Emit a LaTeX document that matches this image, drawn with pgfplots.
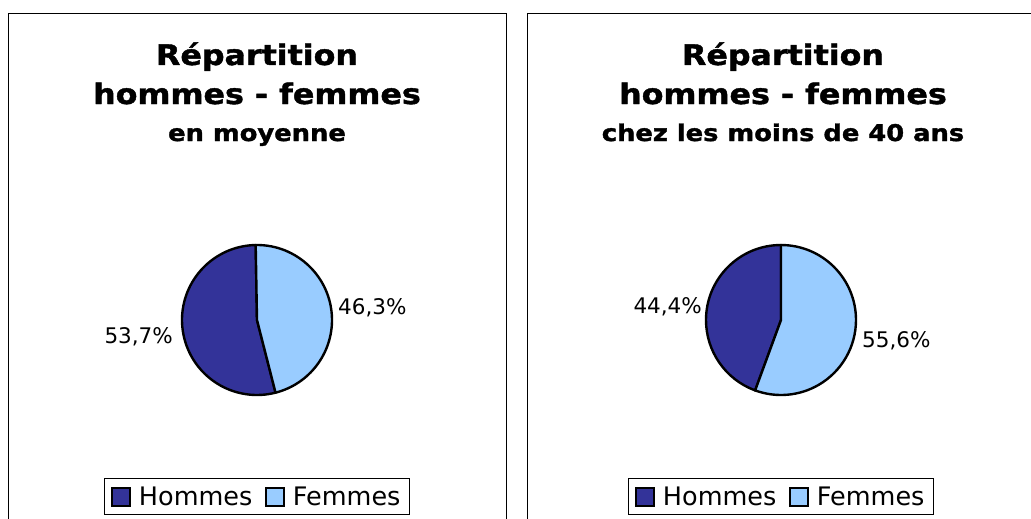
\documentclass[border=0pt]{standalone}
\usepackage{pgfplots}
\usepackage{pgfplotstable}
\pgfplotsset{compat=1.18}
\usepackage{fontspec}
\setmainfont{DejaVu Sans}
\newfontfamily\titlefont{DejaVu Sans Bold}[FakeStretch=1.12,FakeBold=1.5]
\definecolor{hommes}{HTML}{333399}
\definecolor{femmes}{HTML}{99CCFF}

\pgfplotstableread{
groupe valeur
Hommes 53.7
Femmes 46.3
}\moyenne
\pgfplotstableread{
groupe valeur
Hommes 44.4
Femmes 55.6
}\moinsquarante

\pgfplotsset{
  pieaxis/.style={
    anchor=center, scale only axis, width=150pt, height=150pt,
    xmin=-1, xmax=1, ymin=-1, ymax=1, hide axis, clip=false,
    legend columns=2,
    legend style={at={(0.5,-0.677)}, anchor=center, draw=black, line width=0.9pt,
      font=\fontsize{25.5}{30}\selectfont, inner xsep=6.7pt, inner ysep=5.8pt,
      nodes={inner sep=2pt},
      /tikz/every odd column/.append style={column sep=6pt},
      /tikz/every even column/.append style={column sep=11pt}},
    legend image code/.code={\draw[##1,line width=2pt] (0pt,-9pt) rectangle (17.5pt,8.5pt);},
  },
}
\tikzset{labelnode/.style={inner sep=0pt, font=\fontsize{21.5}{25}\selectfont}}

\begin{document}
\begin{tikzpicture}
\useasboundingbox (0,0) rectangle (1031pt,-519pt);
\clip (0,0) rectangle (1031pt,-519pt);
\draw[line width=1pt] (8pt,-540pt) -- (8pt,-14pt) -- (506pt,-14pt) -- (506pt,-540pt);
\draw[line width=1pt] (527.5pt,-540pt) -- (527.5pt,-14pt) -- (1045pt,-14pt);

% titles
\node[anchor=base, inner sep=0pt, font=\titlefont\fontsize{28.3}{32}\selectfont] at (257pt,-65pt) {Répartition};
\node[anchor=base, inner sep=0pt, font=\titlefont\fontsize{28.3}{32}\selectfont] at (257pt,-104pt) {hommes - femmes};
\node[anchor=base, inner sep=0pt, font=\titlefont\fontsize{23}{26}\selectfont] at (257pt,-141pt) {en moyenne};
\node[anchor=base, inner sep=0pt, font=\titlefont\fontsize{28.3}{32}\selectfont] at (783pt,-65pt) {Répartition};
\node[anchor=base, inner sep=0pt, font=\titlefont\fontsize{28.3}{32}\selectfont] at (783pt,-104pt) {hommes - femmes};
\node[anchor=base, inner sep=0pt, font=\titlefont\fontsize{23}{26}\selectfont] at (783pt,-141pt) {chez les moins de 40 ans};

% left pie
\pgfplotstablegetelem{0}{valeur}\of\moyenne \let\hA\pgfplotsretval
\pgfplotstablegetelem{1}{valeur}\of\moyenne \let\fA\pgfplotsretval
\pgfmathsetmacro{\startA}{91}
\pgfmathsetmacro{\hEndA}{\startA+3.6*\hA}
\pgfmathsetmacro{\fEndA}{\startA-3.6*\fA}
\begin{axis}[pieaxis, at={(257pt,-320pt)}]
\addlegendimage{fill=hommes, draw=black}
\addlegendentry{Hommes}
\addlegendimage{fill=femmes, draw=black}
\addlegendentry{Femmes}
\filldraw[fill=hommes, draw=black, line width=2.4pt, line join=round]
  (axis cs:0,0) -- ++(\startA:75pt) arc[start angle=\startA, end angle=\hEndA, radius=75pt] -- cycle;
\filldraw[fill=femmes, draw=black, line width=2.4pt, line join=round]
  (axis cs:0,0) -- ++(\startA:75pt) arc[start angle=\startA, end angle=\fEndA, radius=75pt] -- cycle;
\node[labelnode, anchor=base east] at (axis cs:-1.12,-0.307) {53,7\%};
\node[labelnode, anchor=base west] at (axis cs:1.08,0.08) {46,3\%};
\end{axis}

% right pie
\pgfplotstablegetelem{0}{valeur}\of\moinsquarante \let\hB\pgfplotsretval
\pgfplotstablegetelem{1}{valeur}\of\moinsquarante \let\fB\pgfplotsretval
\pgfmathsetmacro{\startB}{90}
\pgfmathsetmacro{\hEndB}{\startB+3.6*\hB}
\pgfmathsetmacro{\fEndB}{\startB-3.6*\fB}
\begin{axis}[pieaxis, at={(781pt,-320pt)}]
\addlegendimage{fill=hommes, draw=black}
\addlegendentry{Hommes}
\addlegendimage{fill=femmes, draw=black}
\addlegendentry{Femmes}
\filldraw[fill=hommes, draw=black, line width=2.4pt, line join=round]
  (axis cs:0,0) -- ++(\startB:75pt) arc[start angle=\startB, end angle=\hEndB, radius=75pt] -- cycle;
\filldraw[fill=femmes, draw=black, line width=2.4pt, line join=round]
  (axis cs:0,0) -- ++(\startB:75pt) arc[start angle=\startB, end angle=\fEndB, radius=75pt] -- cycle;
\node[labelnode, anchor=base east] at (axis cs:-1.053,0.093) {44,4\%};
\node[labelnode, anchor=base west] at (axis cs:1.08,-0.36) {55,6\%};
\end{axis}
\end{tikzpicture}
\end{document}
